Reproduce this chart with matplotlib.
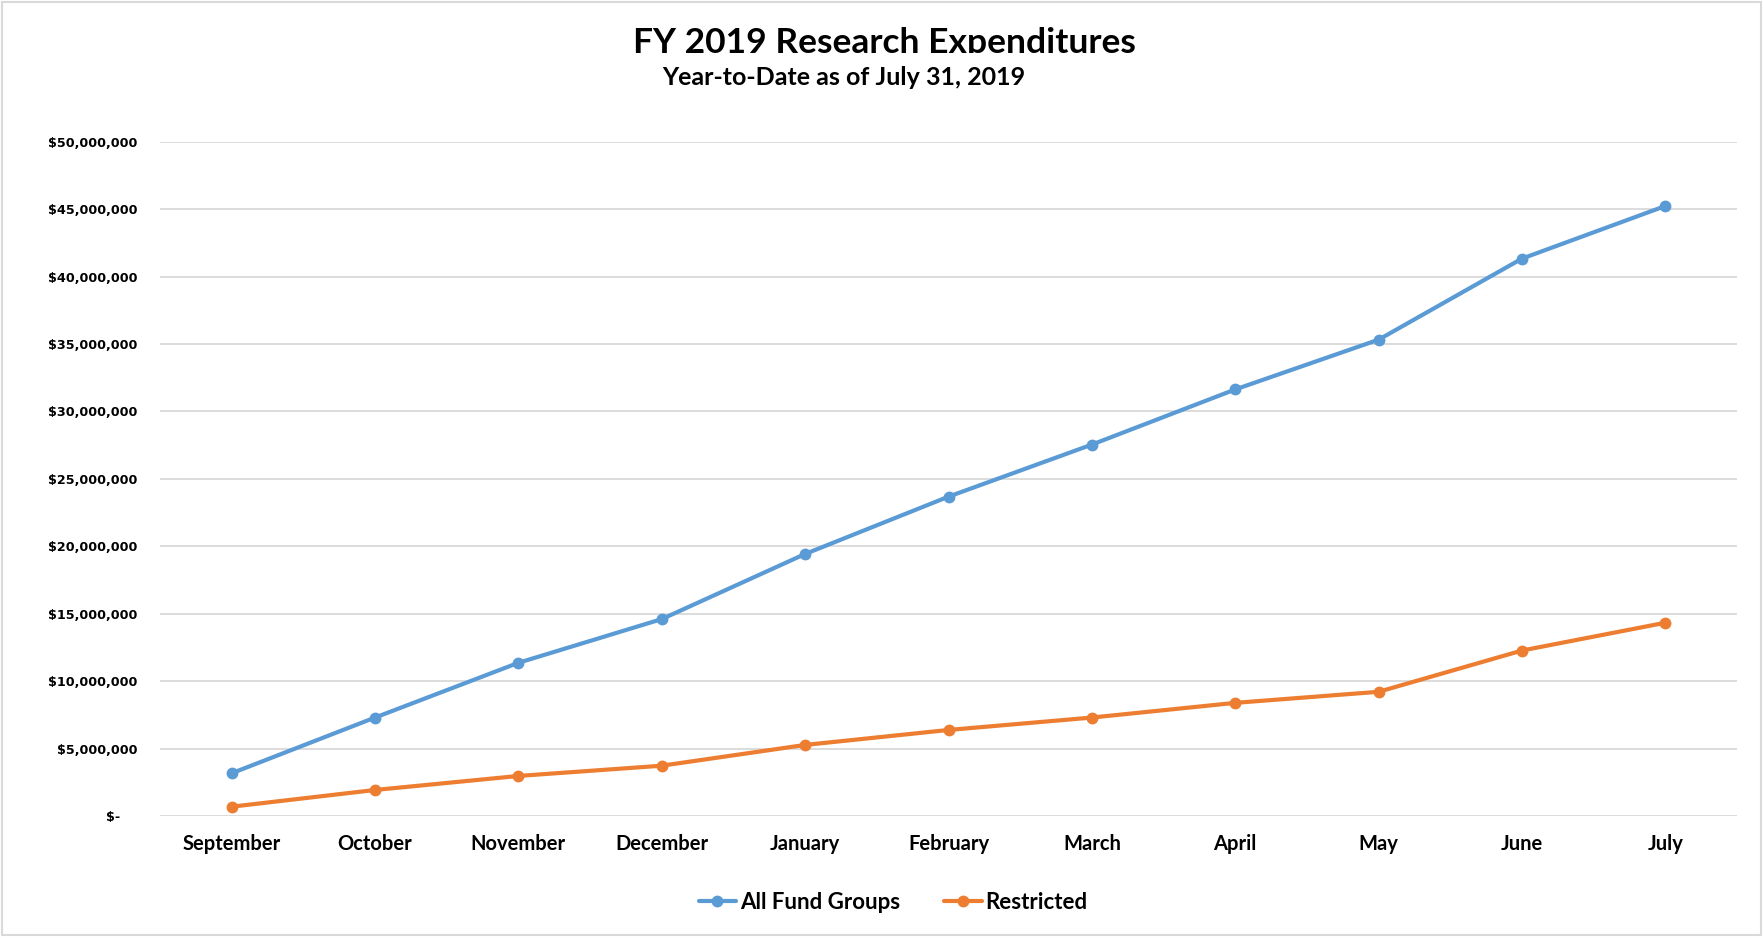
import matplotlib
matplotlib.use("Agg")
import matplotlib.pyplot as plt
from matplotlib.ticker import FuncFormatter, MultipleLocator
from matplotlib.transforms import Bbox
from matplotlib.patches import Rectangle

months = ["September", "October", "November", "December", "January", "February",
          "March", "April", "May", "June", "July"]
all_fund_groups = [3.17e6, 7.30e6, 11.36e6, 14.60e6, 19.43e6, 23.68e6,
                   27.54e6, 31.63e6, 35.32e6, 41.33e6, 45.23e6]
restricted = [0.69e6, 1.93e6, 2.97e6, 3.73e6, 5.27e6, 6.38e6,
              7.30e6, 8.39e6, 9.21e6, 12.27e6, 14.33e6]
series_names = ["All Fund Groups", "Restricted"]
title = "FY 2019 Research Expenditures"
subtitle = "Year-to-Date as of July 31, 2019"

W, H = 1763, 938
fig = plt.figure(figsize=(W / 100, H / 100), dpi=100)
ax = fig.add_axes([160 / W, (H - 816) / H, (1737 - 160) / W, (816 - 141.7) / H])

blue = "#5B9BD5"
orange = "#ED7D31"
x = list(range(len(months)))
ax.plot(x, all_fund_groups, color=blue, lw=3.0, marker="o", ms=7.5,
        label=series_names[0], solid_capstyle="round")
ax.plot(x, restricted, color=orange, lw=3.0, marker="o", ms=7.5,
        label=series_names[1], solid_capstyle="round")

ax.set_xlim(-0.5, len(months) - 0.5)
ax.set_ylim(0, 50e6)
ax.yaxis.set_major_locator(MultipleLocator(5e6))


def fmt(v, pos):
    if abs(v) < 1:
        return "$-    "
    return "${:,.0f}".format(v)


ax.yaxis.set_major_formatter(FuncFormatter(fmt))
ax.set_xticks(x)
ax.set_xticklabels(months, fontfamily="Lato", fontweight="bold", fontsize=14.5)
for lab in ax.get_yticklabels():
    lab.set_fontfamily("DejaVu Sans")
    lab.set_fontweight("bold")
    lab.set_fontsize(9.2)
ax.tick_params(axis="y", length=0, pad=16)
ax.tick_params(axis="x", length=0, pad=13)
ax.grid(axis="y", color="#D9D9D9", lw=1.3)
ax.set_axisbelow(True)
for s in ax.spines.values():
    s.set_visible(False)

# title (slightly clipped at bottom as in the original)
t = fig.text(884 / W, 1 - 53 / H, title, ha="center", va="baseline",
             fontfamily="Lato", fontweight="bold", fontsize=25.5)
t.set_clip_on(True)
t.set_clip_box(Bbox([[0, H - 53], [W, H]]))
fig.text(844 / W, 1 - 85 / H, subtitle, ha="center", va="baseline",
         fontfamily="Lato", fontweight="bold", fontsize=18)

leg = fig.legend(loc="center", bbox_to_anchor=(893 / W, 1 - 902 / H), ncol=2,
                 frameon=False, prop={"family": "Lato", "weight": "bold", "size": 16},
                 handlelength=1.7, handletextpad=0.15, columnspacing=2.0)

fig.patches.append(Rectangle((2 / W, 3 / H), (W - 4) / W, (H - 5) / H,
                             transform=fig.transFigure, fill=False,
                             edgecolor="#D9D9D9", lw=1.5))

fig.savefig("out.png", dpi=100, facecolor="white")
